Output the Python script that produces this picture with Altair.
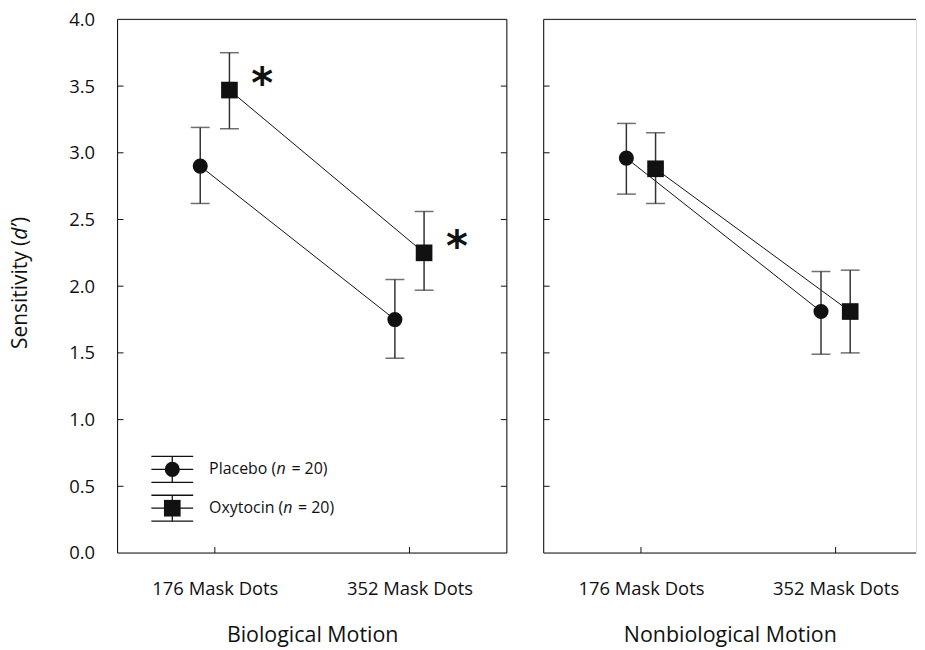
import altair as alt
import pandas as pd

# ---------------- data ----------------
conditions = ["176 Mask Dots", "352 Mask Dots"]
panel_titles = ["Biological Motion", "Nonbiological Motion"]
groups = ["Placebo", "Oxytocin"]
group_n = [20, 20]

bio_placebo_mean = [2.90, 1.75]
bio_placebo_low = [2.62, 1.46]
bio_placebo_high = [3.19, 2.05]
bio_oxytocin_mean = [3.47, 2.25]
bio_oxytocin_low = [3.18, 1.97]
bio_oxytocin_high = [3.75, 2.56]

nonbio_placebo_mean = [2.96, 1.81]
nonbio_placebo_low = [2.69, 1.49]
nonbio_placebo_high = [3.22, 2.11]
nonbio_oxytocin_mean = [2.88, 1.81]
nonbio_oxytocin_low = [2.62, 1.50]
nonbio_oxytocin_high = [3.15, 2.12]

bio_oxytocin_significant = [True, True]

y_ticks = [0.0, 0.5, 1.0, 1.5, 2.0, 2.5, 3.0, 3.5, 4.0]

# ---------------- styling ----------------
W, H = 391, 536          # left panel plot area
W2 = 374                 # right panel (runs to the page edge)
PX_PER_UNIT = W / 2.0
TICK = 6
FONT = "Open Sans"
INK = "#111111"
BAR = "#333333"
group_offset = {"Placebo": -0.075, "Oxytocin": 0.075}

# approximate Open Sans advance widths (em) used to butt text pieces together
ADV = {" ": .26, "(": .303, ")": .303, "=": .572, "0": .572, "2": .572,
       "P": .603, "l": .25, "a": .556, "c": .479, "e": .561, "b": .613, "o": .604,
       "O": .781, "x": .504, "y": .5, "t": .352, "i": .25, "n": .613,
       "S": .549, "s": .479, "v": .5, "d": .604, "\u2019": .2}


def text_w(s, fs):
    return sum(ADV.get(ch, .55) for ch in s) * fs


def rows(panel, group, means, lows, highs, sig=None):
    out = []
    for i, c in enumerate(conditions):
        out.append(dict(panel=panel, group=group, condition=c, pos=i + 1,
                        x=i + 1 + group_offset[group], mean=means[i],
                        low=lows[i], high=highs[i],
                        sig=bool(sig[i]) if sig else False))
    return out


bio_df = pd.DataFrame(
    rows(panel_titles[0], "Placebo", bio_placebo_mean, bio_placebo_low, bio_placebo_high)
    + rows(panel_titles[0], "Oxytocin", bio_oxytocin_mean, bio_oxytocin_low,
           bio_oxytocin_high, bio_oxytocin_significant))
nonbio_df = pd.DataFrame(
    rows(panel_titles[1], "Placebo", nonbio_placebo_mean, nonbio_placebo_low, nonbio_placebo_high)
    + rows(panel_titles[1], "Oxytocin", nonbio_oxytocin_mean, nonbio_oxytocin_low, nonbio_oxytocin_high))

label_expr = "datum.value == 1 ? '%s' : '%s'" % (conditions[0], conditions[1])
ys = alt.Scale(domain=[0, 4], nice=False, zero=False)


def panel(df, title, width, left_axis, legend, right_border):
    xs = alt.Scale(domain=[0.5, 0.5 + width / PX_PER_UNIT], nice=False, zero=False)
    x_axis = alt.Axis(
        values=[1, 2], labelExpr=label_expr, ticks=False, domain=False, grid=False,
        labelFont=FONT, labelFontSize=18.5, labelColor=INK, labelPadding=27,
        title=title, titleFont=FONT, titleFontSize=21.5, titleFontWeight="normal",
        titleColor=INK, titlePadding=26)
    if left_axis:
        y_axis = alt.Axis(values=y_ticks, format=".1f", ticks=False, domain=False,
                          grid=False, labelFont=FONT, labelFontSize=18.5, labelColor=INK,
                          labelPadding=23, title=None)
    else:
        y_axis = None

    def X(f):
        return alt.X(f + ":Q", scale=xs, axis=x_axis)

    def Y(f):
        return alt.Y(f + ":Q", scale=ys, axis=y_axis)

    base = alt.Chart(df)
    one = alt.Chart(pd.DataFrame({"k": [0]}))
    layers = []

    # frame (top, bottom, left, optional right)
    layers.append(one.mark_rule(color=INK, strokeWidth=1).encode(
        x=alt.value(0), x2=alt.value(width), y=alt.value(0)))
    layers.append(one.mark_rule(color=INK, strokeWidth=1).encode(
        x=alt.value(0), x2=alt.value(width), y=alt.value(H)))
    layers.append(one.mark_rule(color=INK, strokeWidth=1).encode(
        x=alt.value(0), y=alt.value(0), y2=alt.value(H)))
    if right_border:
        layers.append(one.mark_rule(color=INK, strokeWidth=1).encode(
            x=alt.value(width), y=alt.value(0), y2=alt.value(H)))

    # data
    layers.append(base.mark_line(color=INK, strokeWidth=1).encode(
        x=X("x"), y=Y("mean"), detail="group:N"))
    layers.append(base.mark_rule(color=BAR, strokeWidth=1.5).encode(
        x=X("x"), y=Y("low"), y2="high:Q"))
    for f in ["low", "high"]:
        layers.append(base.mark_tick(orient="horizontal", size=19, thickness=1.5,
                                     color=BAR).encode(x=X("x"), y=Y(f)))
    layers.append(base.transform_filter("datum.group == 'Placebo'").mark_point(
        shape="circle", filled=True, opacity=1, color=INK, size=230).encode(
        x=X("x"), y=Y("mean")))
    layers.append(base.transform_filter("datum.group == 'Oxytocin'").mark_point(
        shape="square", filled=True, opacity=1, color=INK, size=280).encode(
        x=X("x"), y=Y("mean")))
    layers.append(base.transform_filter("datum.sig").mark_text(
        text="*", font="DejaVu Sans", fontWeight="bold", fontSize=42, dx=33, dy=-5,
        baseline="middle", align="center", color=INK).encode(x=X("x"), y=Y("mean")))

    # inward tick marks
    ytick_df = alt.Chart(pd.DataFrame({"v": y_ticks[1:-1]}))
    layers.append(ytick_df.mark_rule(color=INK, strokeWidth=1).encode(
        y=Y("v"), x=alt.value(0), x2=alt.value(TICK)))
    if right_border:
        layers.append(ytick_df.mark_rule(color=INK, strokeWidth=1).encode(
            y=Y("v"), x=alt.value(width), x2=alt.value(width - TICK)))
    xtick_df = alt.Chart(pd.DataFrame({"v": [1, 2]}))
    layers.append(xtick_df.mark_rule(color=INK, strokeWidth=1).encode(
        x=X("v"), y=alt.value(H), y2=alt.value(H - TICK)))

    if left_axis:
        # y title "Sensitivity (d')" with italic d', pieces stacked bottom-up
        fs, tx, ty = 21, -91, 331
        pieces = [("Sensitivity (", "normal"), ("d\u2019", "italic"), (")", "normal")]
        pos = ty
        for s, style in pieces:
            layers.append(one.mark_text(
                text=s, angle=270, align="left", baseline="alphabetic", font=FONT,
                fontSize=fs, fontStyle=style, color=INK).encode(
                x=alt.value(tx), y=alt.value(pos)))
            pos -= text_w(s, fs)

    if legend:
        lfs = 16
        lx0 = 92
        lg = pd.DataFrame({"group": groups, "n": group_n})
        lg["ly"] = [452, 491]
        lg["ltop"] = lg["ly"] - 13
        lg["lbot"] = lg["ly"] + 13
        lg["lab1"] = [g + " (" for g in groups]
        lg["lab3"] = ["= %d)" % n for n in group_n]
        lg["x1"] = lx0
        lg["x2"] = [lx0 + text_w(s, lfs) for s in lg["lab1"]]
        lg["x3"] = lg["x2"] + (ADV["n"] + ADV[" "]) * lfs + 1
        lgc = alt.Chart(lg)
        cx, half = 55, 21
        for f in ["ltop", "ly", "lbot"]:
            layers.append(lgc.mark_rule(color=INK, strokeWidth=1.3).encode(
                x=alt.value(cx - half), x2=alt.value(cx + half),
                y=alt.Y(f + ":Q", scale=None)))
        layers.append(lgc.mark_rule(color=INK, strokeWidth=1.3).encode(
            x=alt.value(cx), y=alt.Y("ltop:Q", scale=None), y2="lbot:Q"))
        layers.append(lgc.transform_filter("datum.group == 'Placebo'").mark_point(
            shape="circle", filled=True, opacity=1, color=INK, size=230).encode(
            x=alt.value(cx), y=alt.Y("ly:Q", scale=None)))
        layers.append(lgc.transform_filter("datum.group == 'Oxytocin'").mark_point(
            shape="square", filled=True, opacity=1, color=INK, size=280).encode(
            x=alt.value(cx), y=alt.Y("ly:Q", scale=None)))
        layers.append(lgc.mark_text(align="left", baseline="middle", font=FONT,
                                    fontSize=lfs, color=INK).encode(
            x=alt.X("x1:Q", scale=None), y=alt.Y("ly:Q", scale=None), text="lab1:N"))
        layers.append(lgc.mark_text(align="left", baseline="middle", font=FONT,
                                    fontSize=lfs, fontStyle="italic", color=INK,
                                    text="n").encode(
            x=alt.X("x2:Q", scale=None), y=alt.Y("ly:Q", scale=None)))
        layers.append(lgc.mark_text(align="left", baseline="middle", font=FONT,
                                    fontSize=lfs, color=INK).encode(
            x=alt.X("x3:Q", scale=None), y=alt.Y("ly:Q", scale=None), text="lab3:N"))

    return alt.layer(*layers).properties(width=width, height=H)


left = panel(bio_df, panel_titles[0], W, True, True, True)
right = panel(nonbio_df, panel_titles[1], W2, False, False, False)

chart = alt.hconcat(left, right, spacing=35).properties(
    padding={"left": 1, "top": 0, "right": 0, "bottom": 0}
).configure_view(strokeOpacity=0).configure(background="white")

chart.save("out.html", embed_options={"renderer": "svg", "actions": False})
